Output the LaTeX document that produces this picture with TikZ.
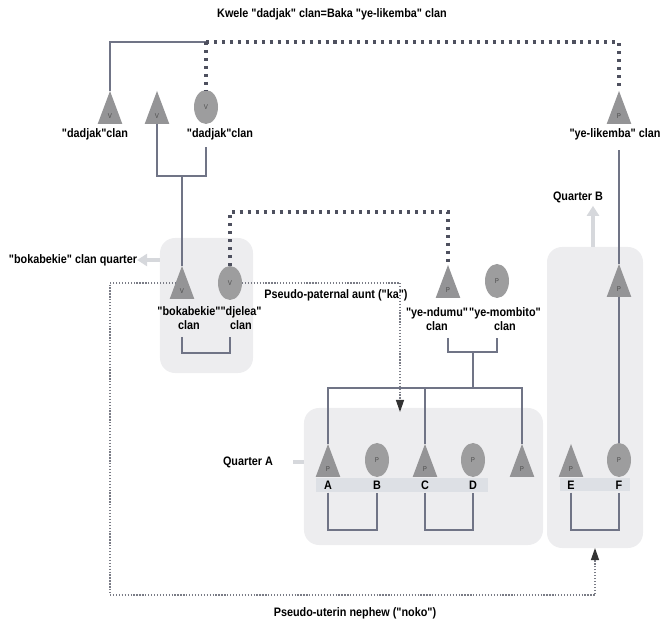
\documentclass[tikz,border=0pt]{standalone}
\usepackage{fontspec}
\setmainfont{Liberation Sans}[FakeStretch=0.88,Ligatures=TeXOff]
\usetikzlibrary{positioning,shapes.geometric,calc,arrows.meta}
\definecolor{linecol}{RGB}{112,116,134}
\definecolor{dotcol}{RGB}{78,80,94}
\definecolor{boxcol}{RGB}{237,237,239}
\definecolor{stripcol}{RGB}{221,224,229}
\definecolor{shapecol}{RGB}{148,148,150}
\definecolor{arrcol}{RGB}{214,216,220}

\begin{document}
\begin{tikzpicture}
[x=0.03cm,y=-0.03cm,
 every node/.style={inner sep=0mm,outer sep=0mm,font=\bfseries\fontsize{10.5}{12.5}\selectfont},
 male/.style={isosceles triangle,isosceles triangle stretches,shape border rotate=90,
   fill=shapecol,minimum width=7.4mm,minimum height=9.9mm,anchor=south,
   font=\fontsize{6}{6}\selectfont,text=black!70},
 female/.style={ellipse,fill=shapecol!92!white,minimum width=7.2mm,minimum height=10.2mm,
   font=\fontsize{6}{6}\selectfont,text=black!70},
 qbox/.style={rectangle,fill=boxcol,rounded corners=4.5mm},
 kin/.style={draw=linecol,line width=0.9pt},
 dotthick/.style={draw=dotcol,line width=3pt,dash pattern=on 2.6pt off 4.2pt},
 dotthin/.style={draw=dotcol!75,line width=1.1pt,dash pattern=on 1.1pt off 1.4pt,
   -{Triangle[length=3.6mm,width=2.4mm,color=black!80]}},
 qarrow/.style={draw=arrcol,line width=2.6pt,-{Triangle[length=3mm,width=3.6mm]}},
 lab/.style={align=center}]
\useasboundingbox (0,0) rectangle (665,625);

% quarters
\node[qbox,minimum width=2.79cm,minimum height=4.05cm] (qK) at (206.5,305.5) {};
\node[qbox,minimum width=7.17cm,minimum height=4.11cm] (qA) at (423.5,476.5) {};
\node[qbox,minimum width=2.88cm,minimum height=9.03cm] (qB) at (595,397.5) {};
\fill[stripcol] (316,478) rectangle (488,492);
\fill[stripcol] (560,478) rectangle (630,491);

% Kwele / Baka
\node (title) at (332,14) {Kwele "dadjak" clan=Baka "ye-likemba" clan};
\node[male]   (V1)  at (110,124) {V};
\node[male]   (V2)  at (157,124) {V};
\node[female] (dad) at (206,107) {V};
\node[male]   (yl)  at (619,124) {P};
\node (dl1)   at (95,134)  {"dadjak"clan};
\node (dl2)   at (220,134) {"dadjak"clan};
\node (yllab) at (615,134) {"ye-likemba" clan};
\coordinate (top) at (206,42);

% bokabekie quarter
\node[male]   (bok) at (182,299) {V};
\node[female] (dje) at (230,283) {V};
\node[lab] (boklab) at (189,318) {"bokabekie"\\clan};
\node[lab] (djlab)  at (241,318) {"djelea"\\clan};
\node (bq) at (73,260) {"bokabekie" clan quarter};
\coordinate (m1) at (182,176);
\coordinate (m2) at (206,353);

% ndumu / mombito
\node[male]   (nd) at (448,298) {P};
\node[female] (mb) at (497,281) {P};
\node[lab] (ndlab) at (437,319) {"ye-ndumu"\\clan};
\node[lab] (mblab) at (505,319) {"ye-mombito"\\clan};
\node (aunt) at (336,295) {Pseudo-paternal aunt ("ka")};
\coordinate (kq) at (448,212);
\coordinate (m3) at (473,352);
\coordinate (sib) at (473,388);
\coordinate (ka) at (400,412);

% quarter A and B
\node (qa) at (248,462) {Quarter A};
\node (qb) at (578,197) {Quarter B};
\node[male]   (pA) at (328,477) {P};
\node[female] (pB) at (377,460) {P};
\node[male]   (pC) at (425,477) {P};
\node[female] (pD) at (473,460) {P};
\node[male]   (pX) at (522,477) {P};
\node[male]   (pE) at (571,477) {P};
\node[female] (pF) at (619,460) {P};
\node[male]   (pQ) at (619,297) {P};
\foreach \n/\x in {A/328,B/377,C/425,D/473,E/571,F/619}
  \node (l\n) at (\x,485) {\n};
\node (noko) at (355,613) {Pseudo-uterin nephew ("noko")};
\coordinate (nk) at (110,595);

% kin lines
\draw[kin] (V1.apex) |- (top);
\draw[dotthick] (top) -| (yl.apex);
\draw[dotthick] (top) -- (dad.north);
\draw[kin] (V2.south) |- (m1) -| ([yshift=-6pt]dad |- dl2.south);
\draw[kin] (m1) -- (bok.apex);
\draw[kin] ([yshift=-6pt]bok |- boklab.south) |- (m2) -| ([yshift=-6pt]dje |- djlab.south);
\draw[dotthick] (dje.north) |- (kq) -- (nd.apex);
\draw[kin] ([yshift=-6pt]nd |- ndlab.south) |- (m3) -| ([yshift=-6pt]mb |- mblab.south);
\draw[kin] (m3) -- (sib);
\draw[kin] (pA.apex) |- (sib) -| (pX.apex);
\draw[kin] (pC.apex) -- (pC.apex |- sib);
\draw[kin] ([yshift=-9pt]yl |- yllab.south) -- (pQ.apex);
\draw[kin] (pQ.south) -- (pF.north);
\foreach \l/\r in {lA/lB,lC/lD,lE/lF}
  \draw[kin] ([yshift=-3pt]\l.south) |- (\l |- 0,530) -| ([yshift=-3pt]\r.south);

% pseudo relations
\draw[dotthin] (dje.east) -| (ka);
\draw[dotthin] (bok.left side |- dje.east) -| (nk) -| (qB.south);

% quarter markers
\draw[qarrow] (qK.west |- bq) -- (bq.east);
\draw[kin,draw=arrcol,line width=2.6pt,shorten >=6mm] (qA.west |- qa) -- (qa.east);
\draw[qarrow,shorten >=1mm] (qB.north -| 593,0) -- (593,0 |- qb.south);
\end{tikzpicture}
\end{document}
